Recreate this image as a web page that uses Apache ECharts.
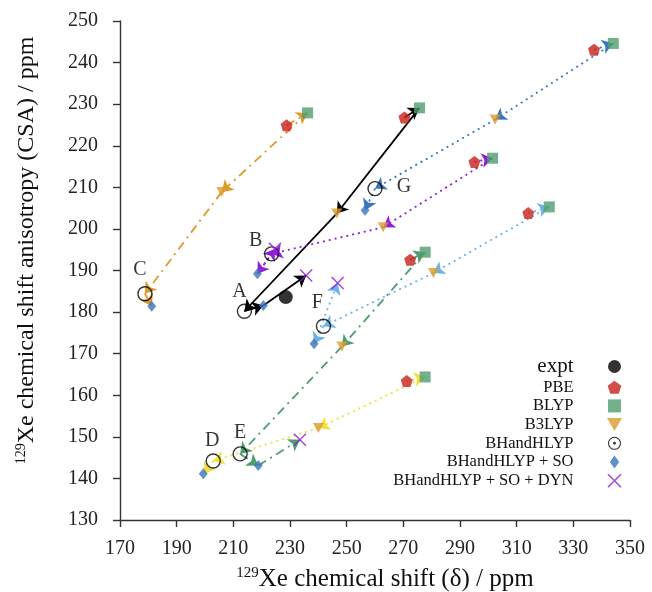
<!DOCTYPE html>
<html>
<head>
<meta charset="utf-8">
<title>129Xe chemical shift vs CSA</title>
<script src="https://cdn.jsdelivr.net/npm/echarts@6/dist/echarts.min.js"></script>
<style>
  html, body { margin: 0; padding: 0; background: #fff; }
  #chart { width: 652px; height: 592px; }
</style>
</head>
<body>
<div id="chart"></div>
<script>
// Xe sites, in the same order as every array below
const sites = ['A', 'B', 'C', 'D', 'E', 'F', 'G'];

// chemical shift (x, ppm) and CSA (y, ppm) for each method
const pbeX   = [270.4, 295.1, 228.8, 271.2, 272.4, 314.1, 337.3];
const pbeY   = [226.8, 216.1, 224.9, 163.4, 192.6, 203.8, 243.1];
const blypX  = [275.7, 301.5, 236.2, 277.7, 277.7, 321.5, 344.1];
const blypY  = [229.1, 217.0, 227.9, 164.4, 194.4, 205.3, 244.6];
const b3lypX = [246.5, 262.9, 205.9, 240.0, 248.3, 280.6, 302.4];
const b3lypY = [203.7, 200.4, 208.9, 152.1, 171.7, 189.4, 226.3];
const bhhX   = [213.9, 223.5, 178.8, 202.9, 212.4, 241.8, 260.0];
const bhhY   = [180.2, 194.0, 184.4, 144.2, 145.9, 176.6, 209.7];
const soX    = [220.6, 218.5, 181.2, 199.4, 218.8, 238.5, 256.5];
const soY    = [181.6, 189.2, 181.4, 141.1, 143.1, 172.4, 204.5];
const dynX   = [235.7, 224.7, null, null, 233.5, 246.8, null];
const dynY   = [188.8, 195.2, null, null, 149.3, 187.0, null];
const exptX  = [228.5];
const exptY  = [183.6];

// tick labels
const xTicks = [170, 190, 210, 230, 250, 270, 290, 310, 330, 350];
const yTicks = [130, 140, 150, 160, 170, 180, 190, 200, 210, 220, 230, 240, 250];

const serif = "'Liberation Serif', 'DejaVu Serif', serif";

// line look of every site's arrows
const siteStyle = {
  A: { color: '#000000', type: 'solid' },
  B: { color: '#9020d8', type: [2, 4] },
  C: { color: '#dc9b2a', type: [9, 5, 2, 5] },
  D: { color: '#f2e03c', type: [2, 4] },
  E: { color: '#4f9d6f', type: [9, 5, 2, 5] },
  F: { color: '#6cb3e8', type: [2, 4] },
  G: { color: '#3b76ba', type: [2, 4] }
};
// where the site letter sits next to its BHandHLYP circle
const labelOffset = {
  A: [-5, -20], B: [-16, -13], C: [-5, -24], D: [-1, -20],
  E: [0, -21], F: [-6, -23], G: [29, -2]
};

const pentagon = 'path://M0,-10L9.51,-3.09L5.88,8.09L-5.88,8.09L-9.51,-3.09Z';
const square = 'path://M-10,-10L10,-10L10,10L-10,10Z';
const diamond = 'path://M0,-11L8,0L0,11L-8,0Z';
const triDown = 'path://M-10,-8.66L10,-8.66L0,8.66Z';
const cross = 'path://M-10,-10L10,10M10,-10L-10,10';
const ringDot = 'path://M-10,0A10,10,0,1,1,10,0A10,10,0,1,1,-10,0ZM-8.4,0A8.4,8.4,0,1,0,8.4,0A8.4,8.4,0,1,0,-8.4,0ZM-2.2,0A2.2,2.2,0,1,1,2.2,0A2.2,2.2,0,1,1,-2.2,0Z';

function points(xs, ys) {
  const out = [];
  xs.forEach((x, i) => {
    if (x != null) out.push({ name: sites[i], value: [x, ys[i]] });
  });
  return out;
}

// arrows: PBE -> BLYP -> B3LYP -> BHandHLYP -> +SO -> +SO+DYN
const chainOrder = [[pbeX, pbeY], [blypX, blypY], [b3lypX, b3lypY], [bhhX, bhhY], [soX, soY], [dynX, dynY]];
const arrowSeries = sites.map((s, i) => {
  const segs = [];
  for (let k = 0; k < chainOrder.length - 1; k++) {
    const a = chainOrder[k], b = chainOrder[k + 1];
    if (a[0][i] == null || b[0][i] == null) continue;
    segs.push({ coords: [[a[0][i], a[1][i]], [b[0][i], b[1][i]]] });
  }
  return {
    type: 'lines',
    coordinateSystem: 'cartesian2d',
    silent: true,
    z: 2,
    symbol: ['none', 'arrow'],
    symbolSize: 11,
    lineStyle: { color: siteStyle[s].color, type: siteStyle[s].type, width: 1.8, opacity: 1, curveness: 0 },
    data: segs
  };
});

const markerSeries = [
  {
    name: 'expt', type: 'scatter', symbol: 'circle', symbolSize: 14, z: 4,
    itemStyle: { color: '#000' }, data: points(exptX, exptY)
  },
  {
    name: 'PBE', type: 'scatter', symbol: pentagon, symbolSize: 12, z: 3,
    itemStyle: { color: '#c8201a' }, data: points(pbeX, pbeY)
  },
  {
    name: 'BLYP', type: 'scatter', symbol: square, symbolSize: 11, z: 3,
    itemStyle: { color: '#4f9d6f' }, data: points(blypX, blypY)
  },
  {
    name: 'B3LYP', type: 'scatter', symbol: triDown, symbolSize: [11, 10], z: 3,
    itemStyle: { color: '#dc9b2a' }, data: points(b3lypX, b3lypY)
  },
  {
    name: 'BHandHLYP', type: 'scatter', symbol: 'circle', symbolSize: 14, z: 3,
    itemStyle: { color: 'rgba(255,255,255,0)', borderColor: '#000', borderWidth: 1.4 },
    label: {
      show: true,
      formatter: p => p.name,
      position: 'inside',
      fontFamily: serif, fontSize: 20, color: '#000'
    },
    data: points(bhhX, bhhY).map(d => Object.assign(d, { label: { offset: labelOffset[d.name] } }))
  },
  {
    name: 'BHandHLYP + SO', type: 'scatter', symbol: diamond, symbolSize: [9, 11], z: 3,
    itemStyle: { color: '#3b76ba' }, data: points(soX, soY)
  },
  {
    name: 'BHandHLYP + SO + DYN', type: 'scatter', symbol: cross, symbolSize: 12, z: 3,
    itemStyle: { color: 'rgba(0,0,0,0)', borderColor: '#8a1ad6', borderWidth: 1.5 },
    data: points(dynX, dynY)
  }
];

const chart = echarts.init(document.getElementById('chart'));

const axisLineStyle = { color: '#333', width: 1.4 };
const titleRich = {
  sup: { fontFamily: serif, fontSize: 14, color: '#111', verticalAlign: 'top', lineHeight: 26 },
  t: { fontFamily: serif, fontSize: 24, color: '#111', lineHeight: 26 }
};

const option = {
  animation: false,
  backgroundColor: '#fff',
  grid: { left: 120, right: 22, top: 21, bottom: 72, outerBoundsMode: 'none' },
  xAxis: {
    type: 'value',
    min: xTicks[0],
    max: xTicks[xTicks.length - 1],
    interval: xTicks[1] - xTicks[0],
    axisLine: { show: true, onZero: false, lineStyle: axisLineStyle },
    axisTick: { show: true, length: 7, lineStyle: axisLineStyle },
    splitLine: { show: false },
    axisLabel: { fontFamily: serif, fontSize: 20, color: '#222', margin: 19 },
    name: '{sup|129}{t|Xe chemical shift (δ) / ppm}',
    nameLocation: 'middle',
    nameGap: 46,
    nameTextStyle: {
      padding: [0, 0, 0, 20],
      rich: {
        sup: { fontFamily: serif, fontSize: 15, color: '#111', verticalAlign: 'top', lineHeight: 26 },
        t: { fontFamily: serif, fontSize: 25, color: '#111', lineHeight: 26 }
      }
    }
  },
  yAxis: {
    type: 'value',
    min: yTicks[0],
    max: yTicks[yTicks.length - 1],
    interval: yTicks[1] - yTicks[0],
    axisLine: { show: true, onZero: false, lineStyle: axisLineStyle },
    axisTick: { show: true, length: 7, lineStyle: axisLineStyle },
    splitLine: { show: false },
    axisLabel: { fontFamily: serif, fontSize: 20, color: '#222', margin: 22 },
    name: '{sup|129}{t|Xe chemical shift anisotropy (CSA) / ppm}',
    nameLocation: 'middle',
    nameGap: 80,
    nameTextStyle: { padding: [0, 0, 0, 40], rich: titleRich }
  },
  legend: {
    orient: 'vertical',
    right: 30,
    top: 356,
    padding: 0,
    align: 'right',
    itemWidth: 72,
    itemHeight: 13,
    itemGap: 1.7,
    selectedMode: false,
    textStyle: { fontFamily: serif, fontSize: 16.5, lineHeight: 16.5, color: '#111' },
    data: [
      { name: 'expt', textStyle: { fontSize: 21, lineHeight: 17 } },
      'PBE',
      'BLYP',
      'B3LYP',
      { name: 'BHandHLYP', icon: ringDot, itemStyle: { color: '#000', borderWidth: 0 } },
      'BHandHLYP + SO',
      { name: 'BHandHLYP + SO + DYN', itemStyle: { borderWidth: 1.5 } }
    ]
  },
  series: arrowSeries.concat(markerSeries)
};

chart.setOption(option);

window.addEventListener('resize', () => {
  chart.resize();
});
</script>
</body>
</html>
